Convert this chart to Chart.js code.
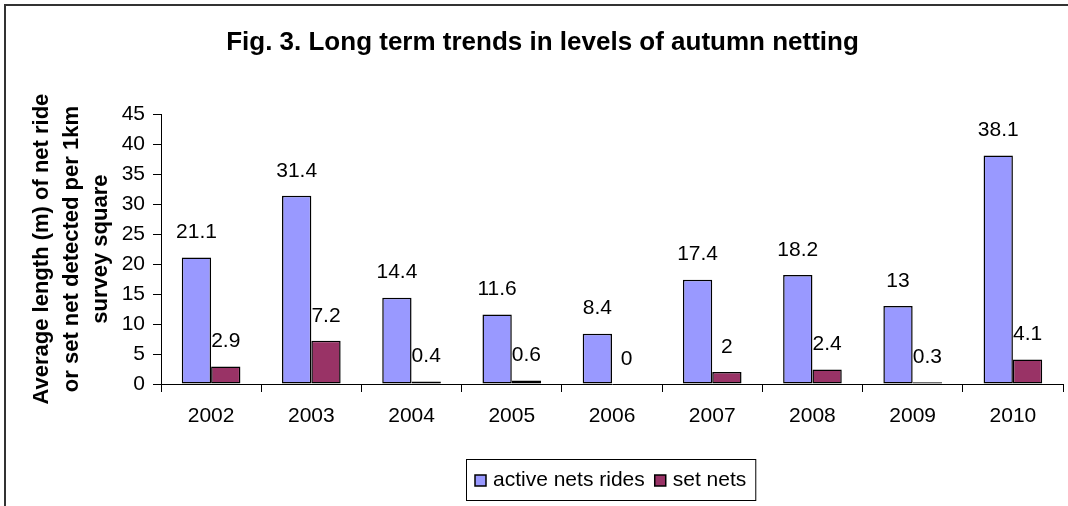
<!DOCTYPE html>
<html>
<head>
<meta charset="utf-8">
<script src="https://cdn.jsdelivr.net/npm/chart.js@4/dist/chart.umd.min.js"></script>
<style>
  html, body { margin: 0; padding: 0; background: #fff; }
  #wrap { width: 1068px; height: 506px; }
</style>
</head>
<body>
<div id="wrap"><canvas id="netting" width="1068" height="506"></canvas></div>
<script>
const years = ['2002', '2003', '2004', '2005', '2006', '2007', '2008', '2009', '2010'];
const activeNetRides = [21.1, 31.4, 14.4, 11.6, 8.4, 17.4, 18.2, 13, 38.1];
const setNets = [2.9, 7.2, 0.4, 0.6, 0, 2, 2.4, 0.3, 4.1];
const seriesNames = ['active nets rides', 'set nets'];
const yTitle = ['Average length (m) of net ride', 'or set net detected per 1km', 'survey square'];

const FONT = "'Liberation Sans', Arial, sans-serif";
Chart.defaults.color = '#000';
Chart.defaults.font.family = FONT;

// value labels above each bar
const barLabels = {
    id: 'barLabels',
    afterDatasetsDraw(chart) {
        const ctx = chart.ctx;
        ctx.save();
        ctx.font = '21px ' + FONT;
        ctx.fillStyle = '#000';
        ctx.textAlign = 'center';
        ctx.textBaseline = 'middle';
        chart.data.datasets.forEach((ds, i) => {
            chart.getDatasetMeta(i).data.forEach((bar, j) => {
                ctx.fillText(String(ds.data[j]), bar.x, bar.y - 25);
            });
        });
        ctx.restore();
    }
};

// boxed legend below the axis + outer frame
const frameAndLegend = {
    id: 'frameAndLegend',
    afterDraw(chart) {
        const ctx = chart.ctx;
        ctx.save();
        ctx.strokeStyle = '#333';
        ctx.lineWidth = 2;
        ctx.beginPath();
        ctx.moveTo(5, 506);
        ctx.lineTo(5, 5);
        ctx.lineTo(1068, 5);
        ctx.stroke();

        ctx.font = '21px ' + FONT;
        const items = chart.data.datasets.map(ds => ({
            text: ds.label, color: ds.backgroundColor, w: ctx.measureText(ds.label).width
        }));
        const pad = 9, sq = 11, gap = 7, between = 10;
        let total = pad * 2 + between * (items.length - 1);
        items.forEach(it => { total += sq + gap + it.w; });
        const left = Math.round(610.5 - total / 2), top = 459, h = 41;
        ctx.lineWidth = 1;
        ctx.strokeStyle = '#000';
        ctx.strokeRect(left + 0.5, top + 0.5, total, h);
        let x = left + pad;
        const cy = top + h / 2 + 1;
        ctx.textBaseline = 'middle';
        ctx.textAlign = 'left';
        items.forEach(it => {
            ctx.fillStyle = it.color;
            ctx.fillRect(x, cy - sq / 2, sq, sq);
            ctx.lineWidth = 1.5;
            ctx.strokeRect(x, cy - sq / 2, sq, sq);
            x += sq + gap;
            ctx.fillStyle = '#000';
            ctx.fillText(it.text, x, cy);
            x += it.w + between;
        });
        ctx.restore();
    }
};

new Chart(document.getElementById('netting').getContext('2d'), {
    type: 'bar',
    data: {
        labels: years,
        datasets: [{
            label: seriesNames[0],
            data: activeNetRides,
            backgroundColor: '#9999FF',
            borderColor: '#000',
            borderWidth: 1.5,
            borderSkipped: false
        }, {
            label: seriesNames[1],
            data: setNets,
            backgroundColor: '#993366',
            borderColor: '#000',
            borderWidth: 1.5,
            borderSkipped: false
        }]
    },
    options: {
        responsive: false,
        animation: false,
        events: [],
        barPercentage: 1,
        categoryPercentage: 0.585,
        layout: { padding: { left: 22, right: 5, top: 0, bottom: 0 } },
        plugins: {
            title: {
                display: true,
                text: 'Fig. 3. Long term trends in levels of autumn netting',
                font: { size: 26, weight: 'bold' },
                padding: { top: 27, bottom: 56 }
            },
            legend: { display: false },
            tooltip: { enabled: false }
        },
        scales: {
            x: {
                afterFit(scale) { scale.height = 122; },
                grid: { drawOnChartArea: false, tickLength: 8, color: '#000' },
                border: { color: '#000' },
                ticks: { font: { size: 21 }, padding: 12, maxRotation: 0 }
            },
            y: {
                min: 0,
                max: 45,
                afterFit(scale) { scale.width = 139; },
                grid: { drawOnChartArea: false, tickLength: 8, color: '#000' },
                border: { color: '#000' },
                ticks: { stepSize: 5, font: { size: 21 }, padding: 8 },
                title: {
                    display: true,
                    text: yTitle,
                    font: { size: 22, weight: 'bold', lineHeight: 1.35 },
                    padding: { top: 5, bottom: 0 }
                }
            }
        }
    },
    plugins: [barLabels, frameAndLegend]
});
</script>
</body>
</html>
